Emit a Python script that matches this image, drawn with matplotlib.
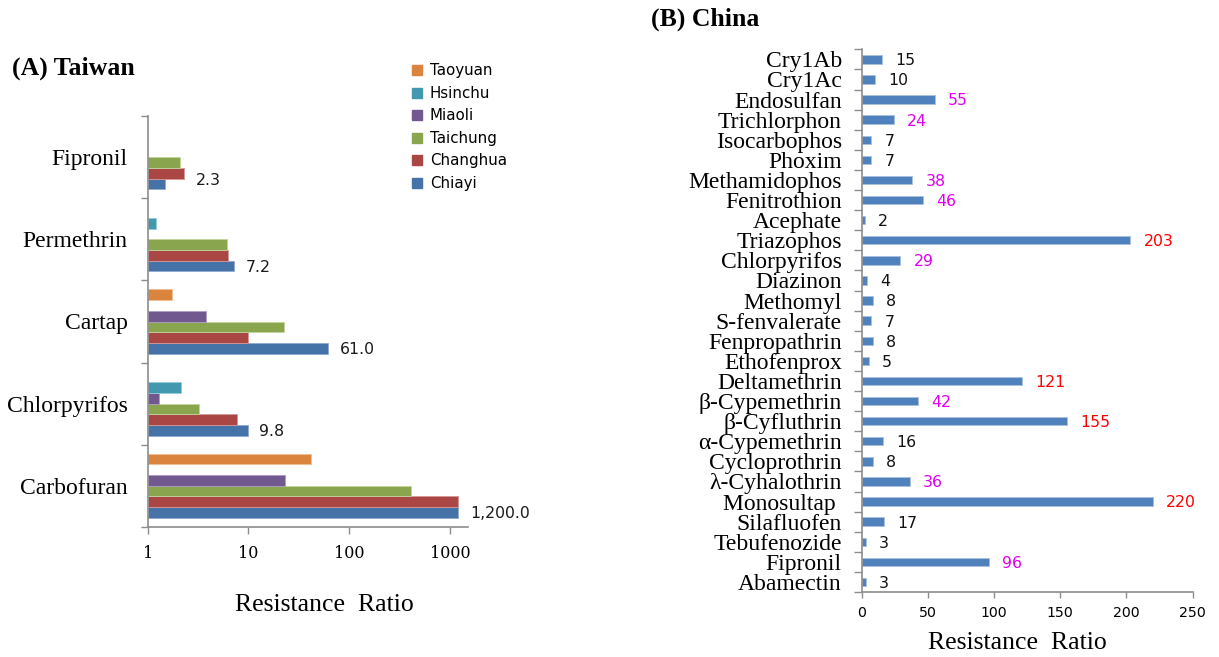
import numpy as np
import matplotlib
matplotlib.use("Agg")
import matplotlib.pyplot as plt
from matplotlib.lines import Line2D

nan = np.nan

# ---- Panel A: Taiwan (log scale) ----
tw_insecticides = ["Carbofuran", "Chlorpyrifos", "Cartap", "Permethrin", "Fipronil"]
tw_regions = ["Chiayi", "Changhua", "Taichung", "Miaoli", "Hsinchu", "Taoyuan"]
chiayi = [1200.0, 9.8, 61.0, 7.2, 1.5]
changhua = [1200.0, 7.7, 10.0, 6.2, 2.3]
taichung = [410.0, 3.2, 22.7, 6.1, 2.1]
miaoli = [23.0, 1.3, 3.8, nan, nan]
hsinchu = [nan, 2.15, nan, 1.2, nan]
taoyuan = [42.0, nan, 1.73, nan, nan]
tw_labelled = ["Chiayi", "Chiayi", "Chiayi", "Chiayi", "Changhua"]
tw_xticks = [1, 10, 100, 1000]
tw_xticklabels = ["1", "10", "100", "1000"]

# ---- Panel B: China ----
cn_insecticides = ["Cry1Ab", "Cry1Ac", "Endosulfan", "Trichlorphon", "Isocarbophos",
                   "Phoxim", "Methamidophos", "Fenitrothion", "Acephate", "Triazophos",
                   "Chlorpyrifos", "Diazinon", "Methomyl", "S-fenvalerate", "Fenpropathrin",
                   "Ethofenprox", "Deltamethrin", "β-Cypemethrin", "β-Cyfluthrin",
                   "α-Cypemethrin", "Cycloprothrin", "λ-Cyhalothrin", "Monosultap ",
                   "Silafluofen", "Tebufenozide", "Fipronil", "Abamectin"]
cn_ratio = [15, 10, 55, 24, 7, 7, 38, 46, 2, 203, 29, 4, 8, 7, 8, 5, 121, 42, 155,
            16, 8, 36, 220, 17, 3, 96, 3]
cn_xticks = [0, 50, 100, 150, 200, 250]

series = {
    "Chiayi": (chiayi, "#4572A7", "#8FAAD0"),
    "Changhua": (changhua, "#AA4643", "#D69896"),
    "Taichung": (taichung, "#89A54E", "#C3D49F"),
    "Miaoli": (miaoli, "#71588F", "#AE9CC4"),
    "Hsinchu": (hsinchu, "#4198AF", "#94CAD8"),
    "Taoyuan": (taoyuan, "#DB843D", "#F0BE93"),
}

W, H = 1219, 657
fig = plt.figure(figsize=(W / 100, H / 100), dpi=100)

SERIF = "Liberation Serif"
SANS = "DejaVu Sans"
SPINE = "#8C8C8C"

# ================= Panel A =================
axA = fig.add_axes([147.7 / W, 1 - 526.7 / H, (468 - 147.7) / W, (526.7 - 116.3) / H])
axA.set_xscale("log")
bar_h = 0.13
y = np.arange(len(tw_insecticides))
for i, name in enumerate(tw_regions):
    vals, col, edge = series[name]
    vals = np.asarray(vals, dtype=float)
    pos = y + (i - 2.5) * bar_h
    axA.barh(pos, vals - 1, left=1, height=bar_h, color=col,
             edgecolor=edge, linewidth=0.6)

for k, name in enumerate(tw_labelled):
    idx = tw_regions.index(name)
    v = series[name][0][k]
    ypos = y[k] + (idx - 2.5) * bar_h
    dy = -1 if idx == 0 else -5
    axA.annotate(f"{v:,.1f}", xy=(v, ypos), xytext=(8.5, dy),
                 textcoords="offset points", va="center", ha="left",
                 fontsize=11.3, family=SANS, color="#1a1a1a")

axA.set_xlim(1, 1506)
axA.set_ylim(-0.5, len(tw_insecticides) - 0.5)
axA.set_xticks(tw_xticks)
axA.set_xticklabels(tw_xticklabels, family="DejaVu Serif", fontsize=11.5)
axA.xaxis.set_minor_locator(matplotlib.ticker.NullLocator())
axA.tick_params(axis="x", which="major", direction="out", length=5, width=1,
                color=SPINE, pad=8)
axA.set_yticks(y)
axA.set_yticklabels(tw_insecticides, family=SERIF, fontsize=17)
axA.tick_params(axis="y", which="major", length=0, pad=14.4)
axA.set_yticks(np.arange(-0.5, len(tw_insecticides)), minor=True)
axA.tick_params(axis="y", which="minor", direction="out", length=5, width=1,
                color=SPINE)
for s in ["top", "right"]:
    axA.spines[s].set_visible(False)
for s in ["left", "bottom"]:
    axA.spines[s].set_color(SPINE)
    axA.spines[s].set_linewidth(1.2)

handles = [Line2D([], [], marker="s", linestyle="none", markersize=6.5,
                  markerfacecolor=series[n][1], markeredgecolor=series[n][1])
           for n in tw_regions[::-1]]
fig.legend(handles, tw_regions[::-1], loc="upper left",
           bbox_to_anchor=(411 / W, 1 - 63.5 / H), frameon=False,
           prop={"family": SANS, "size": 10.8}, handlelength=0.8,
           handletextpad=0.45, labelspacing=0.5, borderpad=0, borderaxespad=0)

fig.text(12 / W, 1 - 68 / H, "(A) Taiwan", family=SERIF, fontweight="bold",
         fontsize=18.5, va="center", ha="left")
fig.text(324 / W, 1 - 605 / H, "Resistance  Ratio", family=SERIF, fontsize=18.5,
         va="center", ha="center")

# ================= Panel B =================
axB = fig.add_axes([862 / W, 1 - 592 / H, (1192.5 - 862) / W, (592 - 49.3) / H])
yb = np.arange(len(cn_insecticides))
axB.barh(yb, cn_ratio, height=0.42, color="#4F81BD", edgecolor="#A9C0DF",
         linewidth=0.6)


def label_color(v):
    if v > 100:
        return "#FF0000"
    if v >= 20:
        return "#E000F0"
    return "#111111"


for yi, v in zip(yb, cn_ratio):
    axB.annotate(f"{v}", xy=(v, yi), xytext=(9.5, -1),
                 textcoords="offset points", va="center", ha="left",
                 fontsize=11.3, family=SANS, color=label_color(v))

axB.set_xlim(0, 250)
axB.set_ylim(len(cn_insecticides) - 0.5, -0.5)
axB.set_xticks(cn_xticks)
axB.set_xticklabels([str(t) for t in cn_xticks], family=SANS, fontsize=10.2)
axB.tick_params(axis="x", which="major", direction="out", length=4, width=1,
                color=SPINE, pad=6)
axB.set_yticks(yb)
axB.set_yticklabels(cn_insecticides, family=SERIF, fontsize=17)
axB.tick_params(axis="y", which="major", length=0, pad=14.5)
axB.set_yticks(np.arange(-0.5, len(cn_insecticides)), minor=True)
axB.tick_params(axis="y", which="minor", direction="out", length=6, width=1,
                color=SPINE)
for s in ["top", "right"]:
    axB.spines[s].set_visible(False)
for s in ["left", "bottom"]:
    axB.spines[s].set_color(SPINE)
    axB.spines[s].set_linewidth(1.2)

fig.text(651 / W, 1 - 19 / H, "(B) China", family=SERIF, fontweight="bold",
         fontsize=18.5, va="center", ha="left")
fig.text(1017 / W, 1 - 643 / H, "Resistance  Ratio", family=SERIF, fontsize=18.5,
         va="center", ha="center")

fig.savefig("out.png", dpi=100)
